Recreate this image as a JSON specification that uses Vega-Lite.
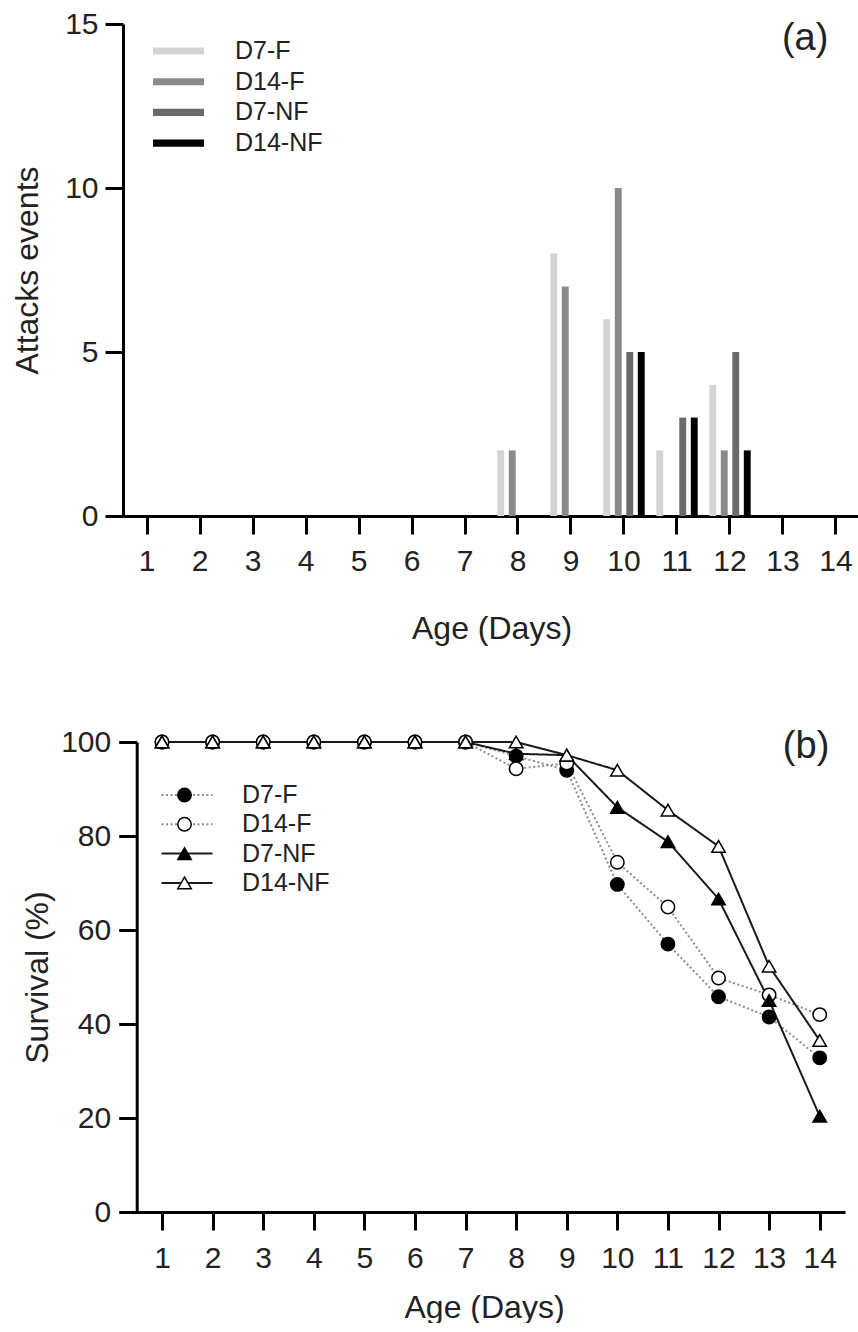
{
  "$schema": "https://vega.github.io/schema/vega-lite/v6.json",
  "padding": {"left": 11, "top": 9, "right": -2, "bottom": 0},
  "spacing": 83,
  "resolve": {
    "scale": {"color": "independent", "stroke": "independent", "strokeDash": "independent", "shape": "independent", "fill": "independent"},
    "legend": {"color": "independent", "stroke": "independent", "strokeDash": "independent", "shape": "independent", "fill": "independent"}
  },
  "config": {
    "font": "Liberation Sans",
    "view": {"stroke": null},
    "axis": {"domainColor": "#000", "domainWidth": 3, "tickColor": "#000", "tickWidth": 3, "tickSize": 18, "labelFontSize": 30, "labelColor": "#222", "titleFontSize": 32, "titleFontWeight": "normal", "titleColor": "#222", "grid": false, "labelFlush": false},
    "axisX": {"labelPadding": 12, "labelAngle": 0, "titlePadding": 37},
    "axisY": {"labelPadding": 7}
  },
  "vconcat": [
    {
      "width": 737,
      "height": 492,
      "data": {"values": [
        {"day": 8, "group": "D7-F", "attacks": 2},
        {"day": 8, "group": "D14-F", "attacks": 2},
        {"day": 9, "group": "D7-F", "attacks": 8},
        {"day": 9, "group": "D14-F", "attacks": 7},
        {"day": 10, "group": "D7-F", "attacks": 6},
        {"day": 10, "group": "D14-F", "attacks": 10},
        {"day": 10, "group": "D7-NF", "attacks": 5},
        {"day": 10, "group": "D14-NF", "attacks": 5},
        {"day": 11, "group": "D7-F", "attacks": 2},
        {"day": 11, "group": "D7-NF", "attacks": 3},
        {"day": 11, "group": "D14-NF", "attacks": 3},
        {"day": 12, "group": "D7-F", "attacks": 4},
        {"day": 12, "group": "D14-F", "attacks": 2},
        {"day": 12, "group": "D7-NF", "attacks": 5},
        {"day": 12, "group": "D14-NF", "attacks": 2}
      ]},
      "layer": [
        {
          "mark": {"type": "bar"},
          "encoding": {
            "x": {"field": "day", "type": "ordinal", "scale": {"domain": [1,2,3,4,5,6,7,8,9,10,11,12,13,14], "paddingInner": 0.132, "paddingOuter": 0.019}, "axis": {"title": "Age (Days)"}},
            "xOffset": {"field": "group", "type": "nominal", "scale": {"domain": ["D7-F", "D14-F", "D7-NF", "D14-NF"], "paddingInner": 0.4, "paddingOuter": 0.2}},
            "y": {"field": "attacks", "type": "quantitative", "scale": {"domain": [0, 15], "nice": false}, "axis": {"values": [0, 5, 10, 15], "title": "Attacks events", "titlePadding": 20}},
            "color": {"field": "group", "type": "nominal", "scale": {"domain": ["D7-F", "D14-F", "D7-NF", "D14-NF"], "range": ["#d4d4d4", "#8a8a8a", "#6a6a6a", "#000000"]},
              "legend": {"orient": "none", "legendX": 43, "legendY": 14.5, "title": null, "symbolType": "M-3,-0.42H3V0.42H-3Z", "symbolSize": 289, "symbolStrokeWidth": 0, "labelFontSize": 25, "labelColor": "#222", "labelOffset": 44, "rowPadding": 4.7, "padding": 0}}
          }
        },
        {
          "data": {"values": [{"label": "(a)"}]},
          "mark": {"type": "text", "fontSize": 38, "align": "right", "baseline": "middle", "color": "#222"},
          "encoding": {
            "x": {"datum": 13.9, "type": "quantitative", "scale": {"domain": [0.5, 14.5], "nice": false, "zero": false}, "axis": null},
            "y": {"datum": 14.54, "type": "quantitative"},
            "text": {"field": "label"}
          }
        }
      ],
      "resolve": {"scale": {"x": "independent"}}
    },
    {
      "width": 722,
      "height": 470,
      "data": {"values": [
        {"day": 1, "group": "D7-F", "survival": 100}, {"day": 2, "group": "D7-F", "survival": 100}, {"day": 3, "group": "D7-F", "survival": 100}, {"day": 4, "group": "D7-F", "survival": 100}, {"day": 5, "group": "D7-F", "survival": 100}, {"day": 6, "group": "D7-F", "survival": 100}, {"day": 7, "group": "D7-F", "survival": 100},
        {"day": 8, "group": "D7-F", "survival": 97}, {"day": 9, "group": "D7-F", "survival": 94}, {"day": 10, "group": "D7-F", "survival": 69.7}, {"day": 11, "group": "D7-F", "survival": 57}, {"day": 12, "group": "D7-F", "survival": 45.8}, {"day": 13, "group": "D7-F", "survival": 41.5}, {"day": 14, "group": "D7-F", "survival": 32.8},
        {"day": 1, "group": "D14-F", "survival": 100}, {"day": 2, "group": "D14-F", "survival": 100}, {"day": 3, "group": "D14-F", "survival": 100}, {"day": 4, "group": "D14-F", "survival": 100}, {"day": 5, "group": "D14-F", "survival": 100}, {"day": 6, "group": "D14-F", "survival": 100}, {"day": 7, "group": "D14-F", "survival": 100},
        {"day": 8, "group": "D14-F", "survival": 94.3}, {"day": 9, "group": "D14-F", "survival": 95.5}, {"day": 10, "group": "D14-F", "survival": 74.4}, {"day": 11, "group": "D14-F", "survival": 64.9}, {"day": 12, "group": "D14-F", "survival": 49.8}, {"day": 13, "group": "D14-F", "survival": 46.2}, {"day": 14, "group": "D14-F", "survival": 42},
        {"day": 1, "group": "D7-NF", "survival": 100}, {"day": 2, "group": "D7-NF", "survival": 100}, {"day": 3, "group": "D7-NF", "survival": 100}, {"day": 4, "group": "D7-NF", "survival": 100}, {"day": 5, "group": "D7-NF", "survival": 100}, {"day": 6, "group": "D7-NF", "survival": 100}, {"day": 7, "group": "D7-NF", "survival": 100},
        {"day": 8, "group": "D7-NF", "survival": 97.5}, {"day": 9, "group": "D7-NF", "survival": 97.2}, {"day": 10, "group": "D7-NF", "survival": 86.1}, {"day": 11, "group": "D7-NF", "survival": 78.8}, {"day": 12, "group": "D7-NF", "survival": 66.6}, {"day": 13, "group": "D7-NF", "survival": 45}, {"day": 14, "group": "D7-NF", "survival": 20.4},
        {"day": 1, "group": "D14-NF", "survival": 100}, {"day": 2, "group": "D14-NF", "survival": 100}, {"day": 3, "group": "D14-NF", "survival": 100}, {"day": 4, "group": "D14-NF", "survival": 100}, {"day": 5, "group": "D14-NF", "survival": 100}, {"day": 6, "group": "D14-NF", "survival": 100}, {"day": 7, "group": "D14-NF", "survival": 100},
        {"day": 8, "group": "D14-NF", "survival": 100}, {"day": 9, "group": "D14-NF", "survival": 97.2}, {"day": 10, "group": "D14-NF", "survival": 94}, {"day": 11, "group": "D14-NF", "survival": 85.5}, {"day": 12, "group": "D14-NF", "survival": 77.8}, {"day": 13, "group": "D14-NF", "survival": 52.3}, {"day": 14, "group": "D14-NF", "survival": 36.5}
      ]},
      "layer": [
        {
          "mark": {"type": "line", "strokeWidth": 2},
          "encoding": {
            "x": {"field": "day", "type": "quantitative", "scale": {"domain": [0.229, 14.5], "nice": false, "zero": false}, "axis": {"values": [1,2,3,4,5,6,7,8,9,10,11,12,13,14], "title": "Age (Days)", "labelPadding": 13, "titlePadding": 19}},
            "y": {"field": "survival", "type": "quantitative", "scale": {"domain": [0, 100], "nice": false}, "axis": {"values": [0, 20, 40, 60, 80, 100], "title": "Survival (%)", "offset": -13.7, "labelPadding": 8, "titlePadding": 6}},
            "stroke": {"field": "group", "type": "nominal", "scale": {"domain": ["D7-F", "D14-F", "D7-NF", "D14-NF"], "range": ["#8c8c8c", "#8c8c8c", "#1a1a1a", "#1a1a1a"]},
              "legend": {"orient": "none", "legendX": 51.5, "legendY": 40.5, "title": null, "symbolType": "M-3,0H3", "symbolSize": 289, "symbolStrokeWidth": 2, "labelFontSize": 25, "labelColor": "#222", "labelOffset": 42.5, "rowPadding": 3.3, "padding": 0}},
            "strokeDash": {"field": "group", "type": "nominal", "scale": {"domain": ["D7-F", "D14-F", "D7-NF", "D14-NF"], "range": [[2, 2.5], [2, 2.5], [1, 0], [1, 0]]},
              "legend": {"orient": "none", "legendX": 51.5, "legendY": 40.5, "title": null, "symbolType": "M-3,0H3", "symbolSize": 289, "symbolStrokeWidth": 2, "labelFontSize": 25, "labelColor": "#222", "labelOffset": 42.5, "rowPadding": 3.3, "padding": 0}}
          }
        },
        {
          "mark": {"type": "point", "filled": true, "size": 180, "stroke": "#000", "strokeWidth": 1.5, "opacity": 1},
          "encoding": {
            "x": {"field": "day", "type": "quantitative"},
            "y": {"field": "survival", "type": "quantitative"},
            "shape": {"field": "group", "type": "nominal", "scale": {"domain": ["D7-F", "D7-NF", "D14-F", "D14-NF"], "range": ["circle", "triangle-up", "circle", "triangle-up"]},
              "legend": {"orient": "none", "legendX": 49, "legendY": 40.5, "title": null, "values": ["D7-F", "D14-F", "D7-NF", "D14-NF"], "symbolSize": 180, "symbolFillColor": "#000000", "symbolStrokeColor": "#000000", "symbolStrokeWidth": 1.5, "labelFontSize": 25, "labelOpacity": 0, "rowPadding": 3.3, "padding": 0}},
            "fill": {"field": "group", "type": "nominal", "scale": {"domain": ["D7-F", "D7-NF", "D14-F", "D14-NF"], "range": ["#000000", "#000000", "#ffffff", "#ffffff"]},
              "legend": {"orient": "none", "legendX": 49, "legendY": 40.5, "title": null, "values": ["D7-F", "D14-F", "D7-NF", "D14-NF"], "symbolSize": 180, "symbolFillColor": "#000000", "symbolStrokeColor": "#000000", "symbolStrokeWidth": 1.5, "labelFontSize": 25, "labelOpacity": 0, "rowPadding": 3.3, "padding": 0}}
          }
        },
        {
          "data": {"values": [{"label": "(b)"}]},
          "mark": {"type": "text", "fontSize": 38, "align": "right", "baseline": "middle", "color": "#222"},
          "encoding": {
            "x": {"datum": 14.19, "type": "quantitative"},
            "y": {"datum": 99, "type": "quantitative"},
            "text": {"field": "label"}
          }
        }
      ]
    }
  ]
}
